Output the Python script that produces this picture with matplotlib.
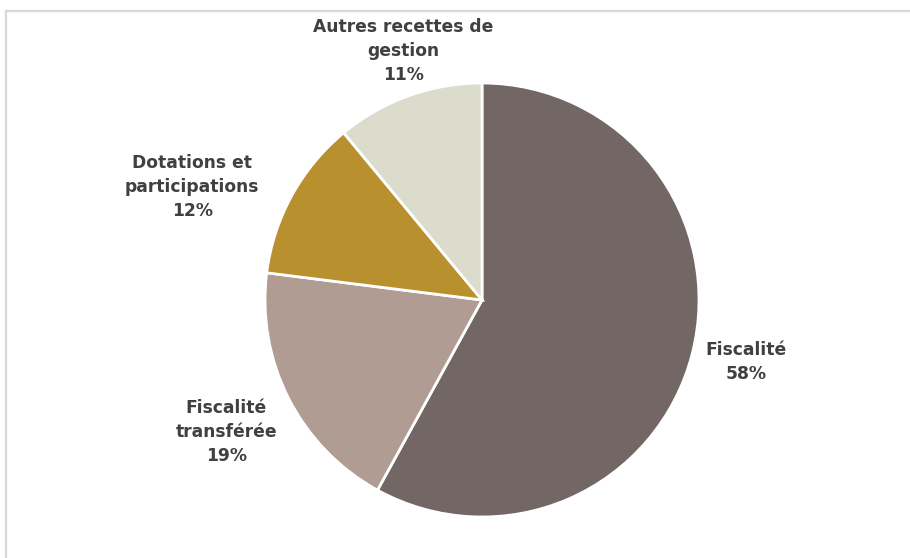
import numpy as np
import matplotlib.pyplot as plt
from matplotlib.lines import Line2D

# Data
categories = ['Fiscalité', 'Fiscalité\ntransférée', 'Dotations et\nparticipations', 'Autres recettes de\ngestion']
shares = [58, 19, 12, 11]
colors = ['#726765', '#b09c93', '#b8902e', '#dcdccc']

# label placement (radius factor, angle offset from wedge middle, degrees)
label_dist = [1.25, 1.327, 1.434, 1.203]
label_shift = [1.2, 0.3, 7.5, -2.2]

W, H = 910, 558
cx, cy, R = 482, 258, 217  # pie centre (px from bottom-left) and radius

fig = plt.figure(figsize=(W / 100, H / 100), dpi=100)
ax = fig.add_axes([0, 0, 1, 1])

wedges, _ = ax.pie(shares, colors=colors, startangle=90, counterclock=False,
                   radius=1, center=(0, 0),
                   wedgeprops=dict(edgecolor='white', linewidth=2))

ax.set_xlim(-cx / R, (W - cx) / R)
ax.set_ylim(-cy / R, (H - cy) / R)
ax.set_aspect('equal')
ax.axis('off')

for w, cat, val, d, s in zip(wedges, categories, shares, label_dist, label_shift):
    mid = np.deg2rad((w.theta1 + w.theta2) / 2 + s)
    ax.text(d * np.cos(mid), d * np.sin(mid), f'{cat}\n{val}%',
            ha='center', va='center', fontsize=12.3, fontweight='bold',
            color='#404040', linespacing=1.45)

# chart frame (top and left edges visible)
fig.add_artist(Line2D([6 / W, 1], [1 - 11 / H, 1 - 11 / H], color='#d9d9d9', lw=1.6))
fig.add_artist(Line2D([6 / W, 6 / W], [0, 1 - 11 / H], color='#d9d9d9', lw=1.6))

fig.savefig('out.png', dpi=100, facecolor='white')
